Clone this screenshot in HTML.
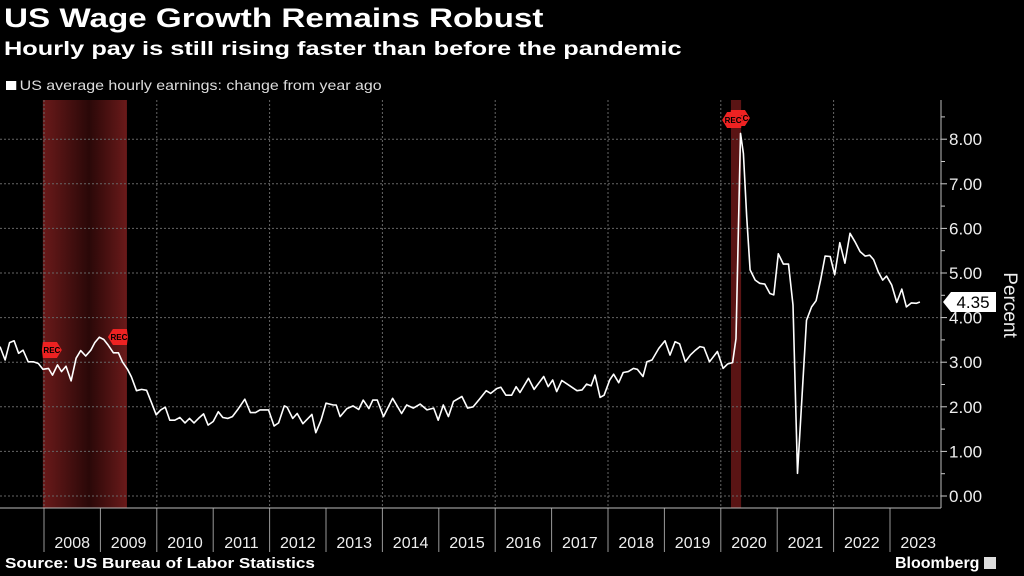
<!DOCTYPE html>
<html><head><meta charset="utf-8">
<style>
html,body{margin:0;padding:0;background:#000;width:1024px;height:576px;overflow:hidden;font-family:"Liberation Sans",sans-serif;color:#fff}
.t{position:absolute;white-space:nowrap;transform-origin:0 0}
</style></head>
<body>
<div class="t" style="left:4px;top:3px;font-size:27px;font-weight:bold;transform:scaleX(1.23);">US Wage Growth Remains Robust</div>
<div class="t" style="left:4px;top:38px;font-size:19.5px;font-weight:bold;transform:scaleX(1.3);">Hourly pay is still rising faster than before the pandemic</div>
<div class="t" style="left:6px;top:77px;font-size:14px;color:#ddd;transform:scaleX(1.14);"><span style="display:inline-block;width:9px;height:9px;background:#fff;margin-right:3px;"></span>US average hourly earnings: change from year ago</div>
<svg id="chart" width="1024" height="576" style="position:absolute;left:0;top:0">
<defs>
<linearGradient id="rg" x1="0" x2="1" y1="0" y2="0">
<stop offset="0" stop-color="#6a1a1a"/><stop offset="0.55" stop-color="#2a0808"/><stop offset="1" stop-color="#6a1a1a"/>
</linearGradient>
</defs>
<g id="bands"></g><g id="grid"></g><g id="axes"></g><g id="line"></g><g id="marks"></g>
</svg>
<div class="t" style="left:5px;top:556px;font-size:14.5px;font-weight:bold;transform:scaleX(1.18);">Source: US Bureau of Labor Statistics</div>
<div class="t" style="left:895px;top:555px;font-size:16px;font-weight:bold;">Bloomberg <span style="display:inline-block;width:12px;height:12px;background:#ddd;vertical-align:-1px;"></span></div>
<script>
const dates=[2007.22,2007.31,2007.39,2007.47,2007.55,2007.63,2007.72,2007.81,2007.90,2007.98,2008.08,2008.15,2008.24,2008.31,2008.39,2008.48,2008.57,2008.65,2008.74,2008.83,2008.90,2008.98,2009.06,2009.14,2009.23,2009.32,2009.39,2009.48,2009.55,2009.64,2009.73,2009.82,2009.91,2009.99,2010.07,2010.15,2010.23,2010.32,2010.41,2010.50,2010.58,2010.66,2010.74,2010.83,2010.91,2011.00,2011.09,2011.17,2011.26,2011.34,2011.43,2011.56,2011.66,2011.75,2011.83,2011.98,2012.08,2012.16,2012.26,2012.31,2012.41,2012.49,2012.59,2012.75,2012.82,2012.91,2013.00,2013.13,2013.18,2013.25,2013.37,2013.48,2013.58,2013.66,2013.76,2013.83,2013.91,
2014.02,2014.18,2014.34,2014.43,2014.55,2014.67,2014.79,2014.91,2014.99,2015.08,2015.17,2015.26,2015.41,2015.51,2015.61,2015.72,2015.84,2015.92,2016.03,2016.10,2016.19,2016.29,2016.37,2016.44,2016.59,2016.69,2016.86,2016.94,2017.02,2017.09,2017.18,2017.30,2017.45,2017.54,2017.62,2017.70,2017.77,2017.86,2017.93,2018.03,2018.10,2018.19,2018.27,2018.36,2018.45,2018.52,2018.62,2018.69,2018.78,2018.90,2019.01,2019.10,2019.19,2019.27,2019.37,2019.46,2019.55,2019.63,2019.70,2019.80,2019.94,2020.04,2020.12,2020.21,
2020.27,2020.35,2020.40,2020.46,2020.52,2020.61,2020.69,2020.78,2020.87,2020.94,2021.02,2021.11,2021.20,2021.28,2021.36,2021.52,2021.61,2021.69,2021.77,2021.85,2021.94,2022.02,2022.11,2022.20,2022.29,2022.38,2022.47,2022.56,2022.64,2022.71,2022.79,2022.87,2022.94,2023.03,2023.12,2023.21,2023.29,2023.38,2023.47,2023.53];
const values=[3.35,3.05,3.44,3.48,3.20,3.27,3.01,3.01,2.97,2.84,2.86,2.71,2.94,2.79,2.91,2.58,3.09,3.26,3.14,3.27,3.44,3.56,3.51,3.38,3.21,3.21,3.01,2.84,2.67,2.36,2.39,2.37,2.08,1.82,1.93,1.99,1.70,1.70,1.76,1.64,1.74,1.64,1.74,1.84,1.59,1.67,1.89,1.76,1.74,1.78,1.93,2.17,1.87,1.87,1.93,1.93,1.57,1.64,2.02,1.99,1.74,1.85,1.62,1.83,1.42,1.69,2.08,2.04,2.04,1.78,1.96,2.02,1.94,2.15,1.96,2.15,2.15,
1.78,2.19,1.85,2.04,1.97,2.06,1.93,1.97,1.70,2.04,1.78,2.12,2.23,1.97,2.00,2.17,2.36,2.30,2.41,2.44,2.26,2.26,2.45,2.32,2.64,2.39,2.68,2.45,2.60,2.34,2.59,2.49,2.36,2.38,2.51,2.47,2.71,2.21,2.26,2.60,2.73,2.54,2.77,2.79,2.86,2.84,2.68,3.01,3.05,3.31,3.48,3.16,3.46,3.41,3.01,3.16,3.27,3.35,3.33,3.01,3.24,2.86,2.96,2.99,
3.53,8.13,7.68,6.26,5.07,4.84,4.77,4.75,4.54,4.51,5.43,5.20,5.20,4.28,0.51,3.94,4.24,4.38,4.84,5.38,5.37,4.96,5.68,5.22,5.89,5.70,5.48,5.38,5.40,5.30,5.03,4.84,4.93,4.73,4.34,4.64,4.24,4.33,4.32,4.35];
const yTicks=[0,1,2,3,4,5,6,7,8];
const yearLabels=[2008,2009,2010,2011,2012,2013,2014,2015,2016,2017,2018,2019,2020,2021,2022,2023];
const recessions=[[2007.98,2009.47],[2020.18,2020.36]];
const lastValue=4.35;

const X=t=>44+(t-2008)*56.4;
const Y=v=>496-v*44.6;
const NS='http://www.w3.org/2000/svg';
function mk(tag,parent,attrs){const e=document.createElementNS(NS,tag);for(const k in attrs)e.setAttribute(k,attrs[k]);parent.appendChild(e);return e;}
const g=id=>document.getElementById(id);
const AX=941, TOP=100, BASE=508;

recessions.forEach((r,i)=>{
  const e=mk('rect',g('bands'),{x:X(r[0]),y:TOP,width:X(r[1])-X(r[0]),height:BASE-TOP,fill:i===0?'url(#rg)':'#5a1414'});
  
  
  const cx=X(r[0]);const cy=i===0?350:118;
  const m=mk('polygon',g('marks'),{points:`${cx},${cy-8} ${cx+14},${cy-8} ${cx+19},${cy} ${cx+14},${cy+8} ${cx},${cy+8} ${cx-1},${cy}`,fill:'#ee2222'});
  
  
  const tx=mk('text',g('marks'),{x:cx+9,y:cy+3,'font-size':8,'font-weight':'bold','text-anchor':'middle',fill:'#000'});
  tx.textContent='REC';
  const ex=X(r[1]);const cy2=i===0?337:120;
  const m2=mk('polygon',g('marks'),{points:`${ex-14},${cy2-8} ${ex},${cy2-8} ${ex+1},${cy2} ${ex},${cy2+8} ${ex-14},${cy2+8} ${ex-19},${cy2}`,fill:'#ee2222'});
  
  
  const tx2=mk('text',g('marks'),{x:ex-8,y:cy2+3,'font-size':8,'font-weight':'bold','text-anchor':'middle',fill:'#000'});
  tx2.textContent='REC';
});

yTicks.forEach(v=>{
  const l=mk('line',g('grid'),{x1:0,x2:AX,y1:Y(v),y2:Y(v),stroke:'#666','stroke-dasharray':'2,2','stroke-width':1});
  
  
  mk('line',g('axes'),{x1:AX,x2:AX+6,y1:Y(v),y2:Y(v),stroke:'#ccc'});
  mk('line',g('axes'),{x1:AX,x2:AX+4,y1:Y(v+0.5),y2:Y(v+0.5),stroke:'#ccc'});
  const t=mk('text',g('axes'),{x:AX+8,y:Y(v)+6,'font-size':17,fill:'#eee'});
  
  
  t.textContent=v.toFixed(2);
});
yearLabels.forEach(yr=>{
  if(yr%2===0){
    const l=mk('line',g('grid'),{x1:X(yr),x2:X(yr),y1:TOP,y2:BASE,stroke:'#666','stroke-dasharray':'2,2'});
    
    
  }
  mk('line',g('axes'),{x1:X(yr),x2:X(yr),y1:BASE,y2:552,stroke:'#999'});
  const t=mk('text',g('axes'),{x:X(yr+0.5),y:548,'font-size':16,fill:'#eee','text-anchor':'middle'});
  
  
  t.textContent=yr;
});
const ax=mk('line',g('axes'),{x1:0,x2:AX,y1:BASE,y2:BASE,stroke:'#bbb'});


const ay=mk('line',g('axes'),{x1:AX,x2:AX,y1:TOP,y2:BASE,stroke:'#bbb'});


const yt=mk('text',g('axes'),{x:0,y:0,'font-size':19,fill:'#eee','text-anchor':'middle',transform:'translate(1004,305) rotate(90)'});


yt.textContent='Percent';

const pts=dates.map((d,i)=>X(d).toFixed(1)+','+Y(values[i]).toFixed(1)).join(' ');
const pl=mk('polyline',g('line'),{points:pts,fill:'none',stroke:'#fff','stroke-width':1.6,'stroke-linejoin':'round'});



const ly=Y(lastValue);
const tag=mk('polygon',g('marks'),{points:`${AX+2},${ly} ${AX+10},${ly-10} ${AX+55},${ly-10} ${AX+55},${ly+10} ${AX+10},${ly+10}`,fill:'#fff'});


const tt=mk('text',g('marks'),{x:AX+32,y:ly+6,'font-size':17,fill:'#000','text-anchor':'middle'});
tt.textContent=lastValue.toFixed(2);
</script>
</body></html>
